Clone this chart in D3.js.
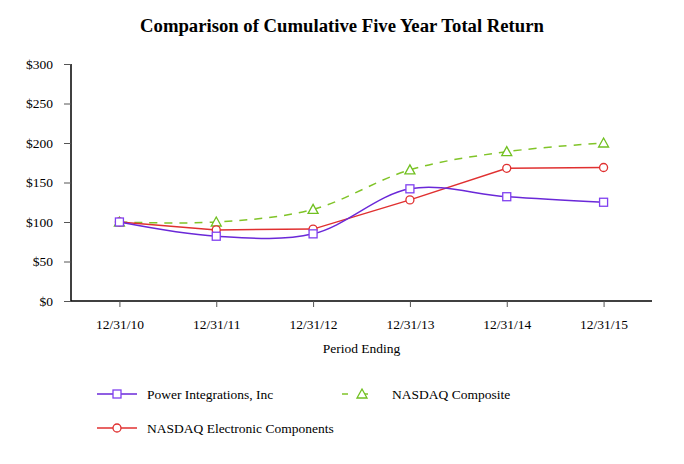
<!DOCTYPE html>
<html>
<head>
<meta charset="utf-8">
<script src="https://cdn.jsdelivr.net/npm/d3@7"></script>
<style>
  body { margin: 0; background: #fff; }
  text { font-family: "Liberation Serif", "Times New Roman", serif; }
</style>
</head>
<body>
<div id="chart"></div>
<script>
const periods = ["12/31/10", "12/31/11", "12/31/12", "12/31/13", "12/31/14", "12/31/15"];
const powerIntegrations = [100, 82, 85, 142, 132, 125];
const nasdaqComposite = [100, 100, 116, 166, 189, 200];
const nasdaqElectronic = [100, 90, 91, 128, 168, 169];
const yTicks = [0, 50, 100, 150, 200, 250, 300];

const width = 684, height = 464;
const margin = { top: 64, right: 32, bottom: 163, left: 71 };
const innerW = width - margin.left - margin.right;
const innerH = height - margin.top - margin.bottom;

const svg = d3.select("#chart").append("svg")
  .attr("width", width)
  .attr("height", height);

svg.append("text")
  .attr("x", width / 2)
  .attr("y", 32)
  .attr("text-anchor", "middle")
  .attr("font-size", 18.7)
  .attr("font-weight", "bold")
  .text("Comparison of Cumulative Five Year Total Return");

const g = svg.append("g")
  .attr("transform", `translate(${margin.left},${margin.top})`);

const x = d3.scalePoint().domain(periods).range([0, innerW]).padding(0.5);
const y = d3.scaleLinear().domain([0, 300]).range([innerH, 0]);

// axes
const yAxis = g.append("g")
  .call(d3.axisLeft(y).tickValues(yTicks).tickSize(7).tickPadding(11).tickFormat(d => "$" + d));
const xAxis = g.append("g")
  .attr("transform", `translate(0,${innerH})`)
  .call(d3.axisBottom(x).tickSize(6).tickPadding(12));

[yAxis, xAxis].forEach(a => {
  a.select(".domain").attr("stroke", "#000").attr("stroke-width", 1.5);
  a.selectAll(".tick line").attr("stroke", "#555");
  a.selectAll("text").attr("font-size", 13.5).attr("font-family", "Liberation Serif, serif").attr("fill", "#000");
});
yAxis.select(".domain").attr("d", `M0,0V${innerH}`);
xAxis.select(".domain").attr("d", `M0,0H${innerW}`);

svg.append("text")
  .attr("x", margin.left + innerW / 2)
  .attr("y", 353)
  .attr("text-anchor", "middle")
  .attr("font-size", 13.5)
  .text("Period Ending");

const series = [
  { name: "Power Integrations, Inc", values: powerIntegrations, color: "#6a28d8", marker: "#8040f0", shape: "square", dash: null, curve: d3.curveCatmullRom.alpha(0.5) },
  { name: "NASDAQ Composite", values: nasdaqComposite, color: "#80c428", marker: "#70c020", shape: "triangle", dash: "8,7", curve: d3.curveCatmullRom.alpha(0.5) },
  { name: "NASDAQ Electronic Components", values: nasdaqElectronic, color: "#e03030", marker: "#e03030", shape: "circle", dash: null, curve: d3.curveLinear }
];

function drawMarker(sel, shape, color, cx, cy) {
  if (shape === "square") {
    sel.append("rect").attr("x", cx - 4).attr("y", cy - 4).attr("width", 8).attr("height", 8)
      .attr("fill", "#fff").attr("stroke", color).attr("stroke-width", 1.3);
  } else if (shape === "circle") {
    sel.append("circle").attr("cx", cx).attr("cy", cy).attr("r", 4)
      .attr("fill", "#fff").attr("stroke", color).attr("stroke-width", 1.3);
  } else {
    sel.append("path").attr("d", `M${cx},${cy - 5}L${cx + 5},${cy + 4}L${cx - 5},${cy + 4}Z`)
      .attr("fill", "#fff").attr("stroke", color).attr("stroke-width", 1.3);
  }
}

// draw in order: green, red, purple on top
[series[1], series[2], series[0]].forEach(s => {
  const line = d3.line()
    .x((d, i) => x(periods[i]))
    .y(d => y(d))
    .curve(s.curve);
  g.append("path")
    .datum(s.values)
    .attr("fill", "none")
    .attr("stroke", s.color)
    .attr("stroke-width", 1.5)
    .attr("stroke-dasharray", s.dash)
    .attr("d", line);
});
[series[1], series[2], series[0]].forEach(s => {
  const mg = g.append("g");
  s.values.forEach((v, i) => drawMarker(mg, s.shape, s.marker, x(periods[i]), y(v)));
});

// legend
const legendPos = [
  { x: 97, y: 394 },
  { x: 342, y: 394 },
  { x: 97, y: 428 }
];
series.forEach((s, i) => {
  const p = legendPos[i];
  const lg = svg.append("g");
  lg.append("line")
    .attr("x1", p.x).attr("x2", p.x + 40).attr("y1", p.y).attr("y2", p.y)
    .attr("stroke", s.color).attr("stroke-width", 1.5)
    .attr("stroke-dasharray", s.dash ? "6,14" : null);
  drawMarker(lg, s.shape, s.marker, p.x + 20, p.y);
  lg.append("text")
    .attr("x", p.x + 50).attr("y", p.y + 4.5)
    .attr("font-size", 13.5)
    .text(s.name);
});
</script>
</body>
</html>
